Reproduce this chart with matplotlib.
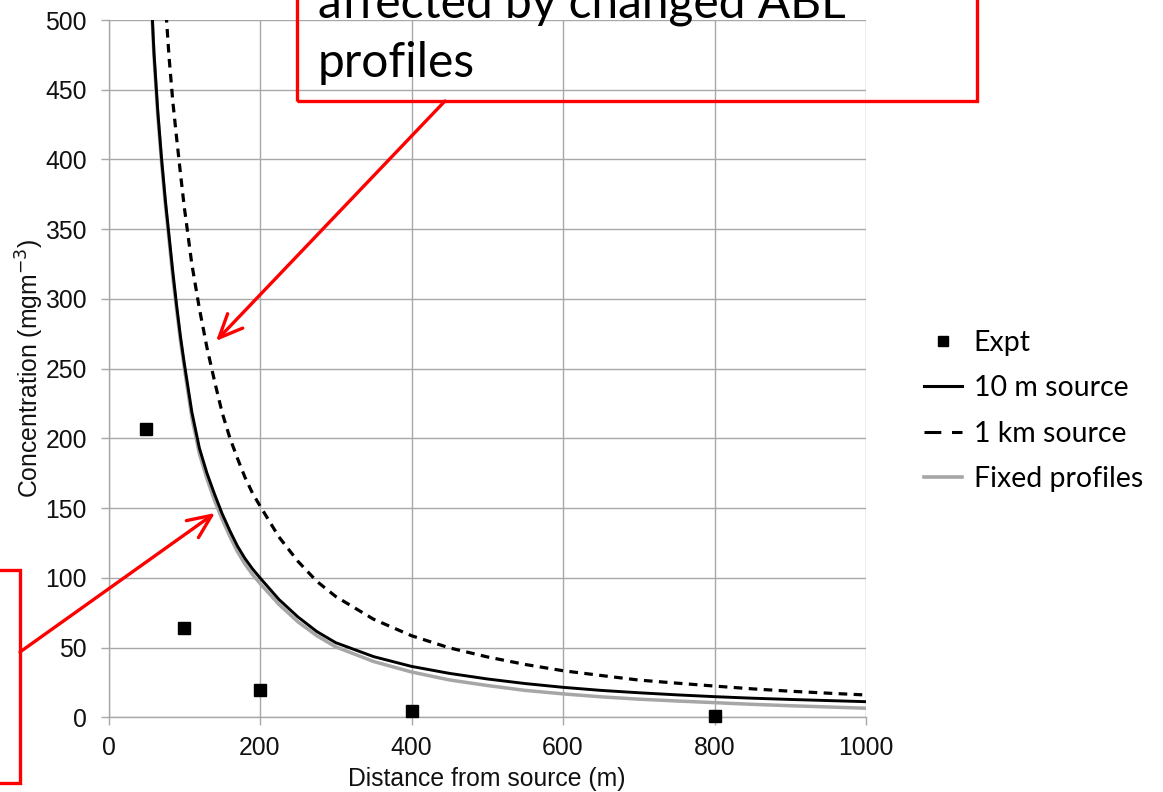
import matplotlib
matplotlib.use("Agg")
import matplotlib.pyplot as plt
from matplotlib.patches import Rectangle, FancyArrowPatch
from matplotlib.lines import Line2D

# Experimental measurements
expt_x = [50, 100, 200, 400, 800]
expt_y = [207, 64, 19.5, 4.5, 1]

# Model curve: 10 m source
src10_x = [55, 60, 65, 70, 75, 80, 85, 90, 95, 100, 110, 120, 130, 140, 150,
           160, 170, 180, 190, 200, 225, 250, 275, 300, 350, 400, 450, 500,
           550, 600, 650, 700, 750, 800, 850, 900, 950, 1000]
src10_y = [534, 477, 435, 401, 371, 345, 319, 295, 273, 254, 219, 193, 175,
           160, 146, 134, 123, 114, 106.5, 100, 84.5, 72, 61.5, 53.5, 43.5,
           36.5, 31.5, 27.5, 24.2, 21.5, 19.3, 17.6, 16.1, 14.8, 13.7, 12.8,
           12.0, 11.2]

# Model curve: 1 km source
src1k_x = [72, 76, 80, 85, 90, 95, 100, 110, 120, 130, 140, 150, 160, 170,
           180, 190, 200, 225, 250, 275, 300, 350, 400, 450, 500, 550, 600,
           650, 700, 750, 800, 850, 900, 950, 1000]
src1k_y = [539, 505, 473, 441, 415, 390, 366, 325, 293, 265, 241, 218.5,
           200.7, 186, 172.3, 160.8, 151.6, 129.3, 111.9, 97.5, 86.6, 70.3,
           58.5, 49.8, 43.3, 37.9, 33.4, 30, 26.7, 24.5, 22.4, 20.4, 18.7,
           17.3, 16]

# Model curve: fixed profiles
fixed_x = [55, 60, 65, 70, 75, 80, 85, 90, 95, 100, 110, 120, 130, 140, 150,
           160, 170, 180, 190, 200, 225, 250, 275, 300, 350, 400, 450, 500,
           550, 600, 650, 700, 750, 800, 850, 900, 950, 1000]
fixed_y = [531, 474, 432, 398, 368, 342, 315, 292, 270, 251, 215, 189, 171,
           155.5, 142, 130, 119, 110, 102.5, 96, 81, 68.5, 58.5, 50.5, 40,
           32.5, 26.8, 22.8, 19.3, 16.8, 14.7, 13.0, 11.7, 10.5, 9.3, 8.3,
           7.4, 6.5]

x_ticks = [0, 200, 400, 600, 800, 1000]
y_ticks = [0, 50, 100, 150, 200, 250, 300, 350, 400, 450, 500]

W, H = 1163, 792
fig = plt.figure(figsize=(W / 100, H / 100), dpi=100)

def fx(px):
    return px / W

def fy(py):
    return 1 - py / H

ax = fig.add_axes([fx(108.5), fy(717.3), fx(866) - fx(108.5), fy(20) - fy(717.3)])
ax.set_xlim(0, 1000)
ax.set_ylim(0, 500)
ax.set_xticks(x_ticks)
ax.set_yticks(y_ticks)

grid_col = "#a8a8a8"
ax.grid(True, color=grid_col, lw=1.0)
ax.set_axisbelow(True)
for side in ["top", "right"]:
    ax.spines[side].set_visible(False)
for side in ["left", "bottom"]:
    ax.spines[side].set_color(grid_col)
    ax.spines[side].set_linewidth(1.0)

label_size = 17.8
ax.tick_params(axis="both", colors=grid_col, length=5.5, width=1.0,
               labelcolor="#111111", labelsize=label_size)
ax.tick_params(axis="y", pad=10)
ax.tick_params(axis="x", pad=8)
for lab in ax.get_xticklabels() + ax.get_yticklabels():
    lab.set_fontfamily("Liberation Sans")

ax.set_xlabel("Distance from source (m)", family="Liberation Sans",
              size=label_size, color="#111111", va="center")
ax.set_ylabel("Concentration (mgm$^{-3}$)", family="Liberation Sans",
              size=label_size, color="#111111", va="center")
ax.xaxis.set_label_coords(0.5, -0.0885)
ax.yaxis.set_label_coords(-0.104, 0.5)

ax.plot(fixed_x, fixed_y, color="#a6a6a6", lw=2.5, zorder=3)
ax.plot(src10_x, src10_y, color="black", lw=2.1, zorder=4)
ax.plot(src1k_x, src1k_y, color="black", lw=2.3, dashes=(2.7, 2.0), zorder=4)
ax.plot(expt_x, expt_y, ls="none", marker="s", ms=9, color="black",
        clip_on=False, zorder=5)

# Legend
handles = [
    Line2D([], [], ls="none", marker="s", ms=7, color="black"),
    Line2D([], [], color="black", lw=2.2),
    Line2D([], [], color="black", lw=2.2, dashes=(5.5, 3.5)),
    Line2D([], [], color="#a6a6a6", lw=2.6),
]
labels = ["Expt", "10 m source", "1 km source", "Fixed profiles"]
fig.legend(handles, labels, loc="upper left",
           bbox_to_anchor=(fx(924), fy(330)), frameon=False,
           prop={"family": "Lato", "size": 20.5},
           handlelength=1.33, handletextpad=0.42, labelspacing=0.68,
           borderpad=0, borderaxespad=0)

red = "#ff0000"
# Callout box at the top
fig.patches.append(Rectangle((fx(297), fy(101)), fx(977) - fx(297), 0.3,
                             transform=fig.transFigure, fill=False,
                             edgecolor=red, lw=2.4, clip_on=False))
fig.text(fx(318), fy(18), "affected by changed ABL", family="Lato",
         size=34.5, color="black", va="baseline", ha="left")
fig.text(fx(318), fy(77), "profiles", family="Lato",
         size=34.5, color="black", va="baseline", ha="left")

# Callout box at the lower left
fig.patches.append(Rectangle((fx(-60), fy(783)), fx(20) - fx(-60), fy(570) - fy(783),
                             transform=fig.transFigure, fill=False,
                             edgecolor=red, lw=2.4, clip_on=False))

for start, end in [((445, 101), (216, 341)), ((20, 652), (215, 513))]:
    arr = FancyArrowPatch((fx(start[0]), fy(start[1])), (fx(end[0]), fy(end[1])),
                          transform=fig.transFigure,
                          arrowstyle="->,head_length=17,head_width=7.5",
                          color=red, lw=2.4, shrinkA=0, shrinkB=0,
                          mutation_scale=1, zorder=10)
    fig.patches.append(arr)

fig.savefig("out.png", dpi=100)
